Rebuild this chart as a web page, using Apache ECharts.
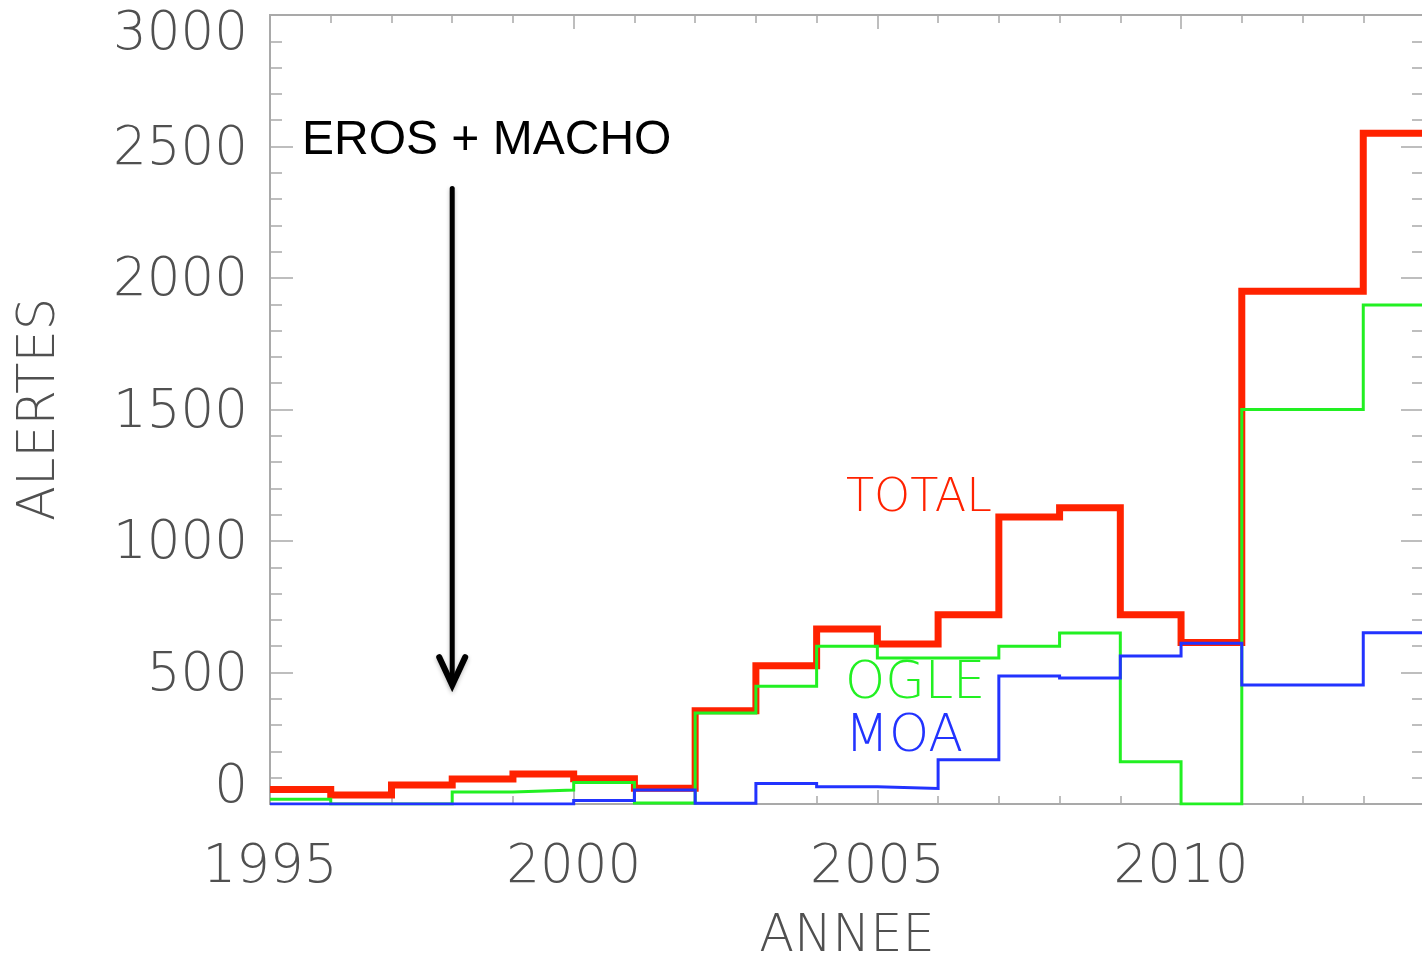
<!DOCTYPE html>
<html>
<head>
<meta charset="utf-8">
<title>Alertes de microlentilles par année</title>
<script src="https://cdn.jsdelivr.net/npm/echarts@6/dist/echarts.min.js"></script>
<style>
  html, body { margin: 0; padding: 0; background: #ffffff; overflow: hidden; }
  #chart { width: 1422px; height: 958px; }
</style>
</head>
<body>
<div id="chart"></div>
<script>
// Yearly bins: each value covers [year, year + 1)
const binStarts = [1995, 1996, 1997, 1998, 1999, 2000, 2001, 2002, 2003, 2004,
                   2005, 2006, 2007, 2008, 2009, 2010, 2011, 2012, 2013];
const binEnd = 2014;

// Alerts per year
const total = [55, 34, 72, 95, 114, 96, 60, 355, 526, 665,
               608, 720, 1091, 1126, 720, 614, 1950, 1950, 2550];
const ogle  = [18, 0, 0, 46, 53, 82, 4, 346, 448, 600,
               555, 555, 600, 650, 161, 0, 1500, 1500, 1897];
const moa   = [0, 0, 0, 0, 0, 13, 53, 3, 78, 66,
               59, 168, 487, 479, 563, 611, 452, 452, 651];

// Axis tick labels
const xTickLabels = [1995, 2000, 2005, 2010];
const yTickLabels = [0, 500, 1000, 1500, 2000, 2500, 3000];

// Annotation: arrow at the end of the EROS + MACHO period
const arrowYear = 1998;
const arrowFrom = 2340;
const arrowTo = 452;

const FONT = "'DejaVu Sans', sans-serif";
const FONT_W = 200;
const AXIS_GREY = '#a9a9a9';
const LABEL_GREY = '#505050';

// Histogram outline: horizontal run over each bin, then step to the next
function histogram(values) {
  const pts = binStarts.map((x, i) => [x, values[i]]);
  pts.push([binEnd, values[values.length - 1]]);
  return pts;
}

const chart = echarts.init(document.getElementById('chart'), null, { renderer: 'canvas' });

const xMin = binStarts[0];
const xMax = binEnd;
const yMin = yTickLabels[0];
const yMax = yTickLabels[yTickLabels.length - 1];

function xAxisDef(position, interval, tickLen, withLabels) {
  return {
    type: 'value',
    position: position,
    min: xMin,
    max: xMax,
    interval: interval,
    axisLine: { show: withLabels || position === 'top', onZero: false,
                lineStyle: { color: AXIS_GREY, width: 2 } },
    axisTick: { show: true, inside: true, length: tickLen,
                lineStyle: { color: AXIS_GREY, width: 1.5 } },
    axisLabel: withLabels ? {
      show: true,
      margin: 38,
      fontFamily: FONT,
      fontWeight: FONT_W,
      fontSize: 53,
      color: LABEL_GREY,
      formatter: v => (xTickLabels.indexOf(v) >= 0 ? String(v) : '')
    } : { show: false },
    splitLine: { show: false },
    name: withLabels ? 'ANNEE' : '',
    nameLocation: 'middle',
    nameGap: 108,
    nameTextStyle: { fontFamily: FONT, fontWeight: FONT_W, fontSize: 51, color: LABEL_GREY }
  };
}

function yAxisDef(position, withLabels) {
  const base = { fontFamily: FONT, fontWeight: FONT_W, fontSize: 53, color: LABEL_GREY };
  return {
    type: 'value',
    position: position,
    min: yMin,
    max: yMax,
    interval: 500,
    axisLine: { show: true, onZero: false, lineStyle: { color: AXIS_GREY, width: 2 } },
    axisTick: { show: true, inside: true, length: 23,
                lineStyle: { color: AXIS_GREY, width: 1.5 } },
    minorTick: { show: true, splitNumber: 5, length: 12,
                 lineStyle: { color: AXIS_GREY, width: 1.5 } },
    axisLabel: withLabels ? {
      show: true,
      margin: 22,
      formatter: v => {
        if (v === yMax) return '{top|' + v + '}';
        if (v === yMin) return '{bot|' + v + '}';
        return '{n|' + v + '}';
      },
      rich: {
        n:   Object.assign({ padding: [7, 0, 0, 0] }, base),
        top: Object.assign({ padding: [40, 0, 0, 0] }, base),
        bot: Object.assign({ padding: [0, 0, 32, 0] }, base)
      }
    } : { show: false },
    splitLine: { show: false },
    name: withLabels ? 'ALERTES' : '',
    nameLocation: 'middle',
    nameRotate: 90,
    nameGap: 204,
    nameTextStyle: { fontFamily: FONT, fontWeight: FONT_W, fontSize: 51, color: LABEL_GREY }
  };
}

function stepSeries(name, values, color, width) {
  return {
    name: name,
    type: 'line',
    step: 'end',
    xAxisIndex: 0,
    yAxisIndex: 0,
    data: histogram(values),
    symbol: 'none',
    showSymbol: false,
    lineStyle: { color: color, width: width, join: 'miter', cap: 'butt' },
    emphasis: { disabled: true },
    animation: false
  };
}

chart.setOption({
  backgroundColor: '#ffffff',
  animation: false,
  grid: { left: 270, top: 15, right: -2, bottom: 154, containLabel: false, outerBoundsMode: 'none' },
  xAxis: [
    xAxisDef('bottom', 1, 8, true),
    xAxisDef('bottom', 5, 14, false),
    xAxisDef('top', 1, 8, false),
    xAxisDef('top', 5, 14, false)
  ],
  yAxis: [
    yAxisDef('left', true),
    yAxisDef('right', false)
  ],
  series: [
    stepSeries('TOTAL', total, '#ff2200', 7),
    stepSeries('OGLE', ogle, '#22f022', 3),
    stepSeries('MOA', moa, '#2233ff', 3)
  ]
});

// Annotations placed from data coordinates of the arrow
const pFrom = chart.convertToPixel({ xAxisIndex: 0, yAxisIndex: 0 }, [arrowYear, arrowFrom]);
const pTo = chart.convertToPixel({ xAxisIndex: 0, yAxisIndex: 0 }, [arrowYear, arrowTo]);
const head = 28;

chart.setOption({
  graphic: [
    {
      type: 'text', left: 302, top: 117, z: 10,
      style: { text: 'EROS + MACHO', fill: '#000000',
               font: "48px 'Liberation Sans', Arial, sans-serif" }
    },
    {
      type: 'line', z: 10,
      shape: { x1: pFrom[0], y1: pFrom[1], x2: pTo[0], y2: pTo[1] - 2 },
      style: { stroke: '#000000', lineWidth: 5, lineCap: 'round',
               shadowBlur: 4, shadowColor: 'rgba(0,0,0,0.25)', shadowOffsetY: 2 }
    },
    {
      type: 'polyline', z: 10,
      shape: { points: [[pTo[0] - 13, pTo[1] - head], [pTo[0], pTo[1]], [pTo[0] + 13, pTo[1] - head]] },
      style: { stroke: '#000000', fill: null, lineWidth: 6, lineCap: 'round', lineJoin: 'miter',
               shadowBlur: 4, shadowColor: 'rgba(0,0,0,0.25)', shadowOffsetY: 2 }
    },
    {
      type: 'text', left: 846, top: 476, z: 10,
      style: { text: 'TOTAL', fill: '#ff2200', font: FONT_W + " 46px " + FONT }
    },
    {
      type: 'text', left: 845, top: 659, z: 10,
      style: { text: 'OGLE', fill: '#22f022', font: FONT_W + " 51px " + FONT }
    },
    {
      type: 'text', left: 845, top: 712, z: 10,
      style: { text: 'MOA', fill: '#2233ff', font: FONT_W + " 51px " + FONT }
    }
  ]
});
</script>
</body>
</html>
